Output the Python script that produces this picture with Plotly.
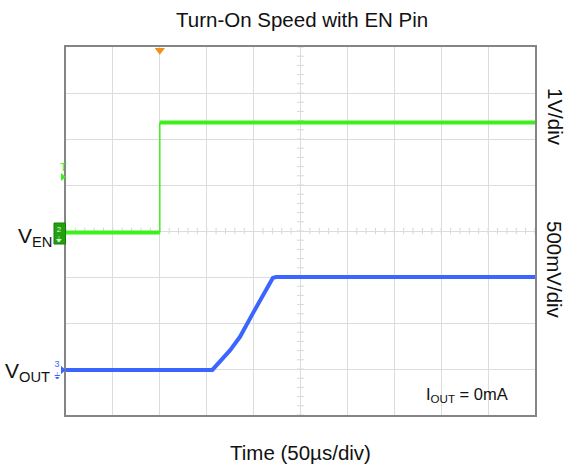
import plotly.graph_objects as go

# Data (in scope divisions: x 0..10, y 0..8 from bottom)
en_x = [0, 2.0, 2.0, 10]
en_y = [3.97, 3.97, 6.36, 6.36]

vout_x = [0, 3.12, 3.50, 3.71, 3.99, 4.41, 4.48, 10]
vout_y = [0.98, 0.98, 1.41, 1.70, 2.22, 2.98, 3.0, 3.0]

FONT = "Arial, Liberation Sans, sans-serif"
GREEN = "#3cf01a"
BLUE = "#3a66ff"

fig = go.Figure()


def px_x(p):
    return (p - 66) / 469


def px_y(p):
    return (415 - p) / 368


def tri_right(x0, x1, yc, h):
    return "M {} {} L {} {} L {} {} Z".format(px_x(x0), px_y(yc - h), px_x(x0), px_y(yc + h),
                                              px_x(x1), px_y(yc))


# center crosshair minor ticks
shapes = []
for i in range(51):
    x = i * 0.2
    shapes.append(dict(type="line", xref="x", yref="y", x0=x, x1=x, y0=4 - 0.07, y1=4 + 0.07,
                       line=dict(color="#d6d6d6", width=1), layer="below"))
for i in range(41):
    y = i * 0.2
    shapes.append(dict(type="line", xref="x", yref="y", x0=5 - 0.07, x1=5 + 0.07, y0=y, y1=y,
                       line=dict(color="#d6d6d6", width=1), layer="below"))

# channel 2 marker box
shapes.append(dict(type="rect", xref="paper", yref="paper", x0=px_x(54), x1=px_x(65.5),
                   y0=px_y(244), y1=px_y(223),
                   fillcolor="#22a010", line=dict(color="#187a08", width=1), layer="above"))
# trigger-level and channel arrows
shapes.append(dict(type="path", xref="paper", yref="paper", path=tri_right(61, 66, 177, 4),
                   fillcolor=GREEN, line=dict(width=0), layer="above"))
shapes.append(dict(type="path", xref="paper", yref="paper", path=tri_right(61, 66, 370, 4),
                   fillcolor=BLUE, line=dict(width=0), layer="above"))

# split EN trace: thick horizontal levels, thin vertical edge
lev_x, lev_y, edge_x, edge_y = [], [], [], []
for i in range(len(en_x) - 1):
    if en_x[i] == en_x[i + 1]:
        edge_x += [en_x[i], en_x[i + 1], None]
        edge_y += [en_y[i], en_y[i + 1], None]
    else:
        lev_x += [en_x[i], en_x[i + 1], None]
        lev_y += [en_y[i], en_y[i + 1], None]

fig.add_trace(go.Scatter(x=lev_x, y=lev_y, mode="lines", line=dict(color=GREEN, width=4),
                         hoverinfo="skip", showlegend=False))
fig.add_trace(go.Scatter(x=edge_x, y=edge_y, mode="lines", line=dict(color=GREEN, width=1.5),
                         hoverinfo="skip", showlegend=False))
fig.add_trace(go.Scatter(x=vout_x, y=vout_y, mode="lines", line=dict(color=BLUE, width=4),
                         hoverinfo="skip", showlegend=False))

# trigger position marker (top)
fig.add_trace(go.Scatter(x=[2.0], y=[7.93], mode="markers", cliponaxis=False,
                         marker=dict(symbol="triangle-down", size=9, color="#f0901a"),
                         hoverinfo="skip", showlegend=False))


def ann(text, px, py, size, color="#111", angle=0, xanchor="center"):
    return dict(text=text, x=px_x(px), y=px_y(py), xref="paper", yref="paper",
                xanchor=xanchor, yanchor="middle", textangle=angle, showarrow=False,
                font=dict(family=FONT, size=size, color=color))


annotations = [
    ann("Turn-On Speed with EN Pin", 302, 19, 20.5),
    ann("Time (50µs/div)", 300, 452, 20.5),
    ann("1V/div", 555, 117, 20.5, angle=90),
    ann("500mV/div", 555, 270, 20.5, angle=90),
    ann("V<sub>EN</sub>", 54, 237, 21, xanchor="right"),
    ann("V<sub>OUT</sub>", 52, 372, 21, xanchor="right"),
    ann("I<sub>OUT</sub> = 0mA", 467, 395, 16.5),
    ann("2<br>⏚", 59, 234, 8, color="#d8ffd0"),
    ann("3<br>⏚", 57, 370, 9, color=BLUE),
    ann("T", 63, 167, 11, color=GREEN),
]

axis_common = dict(showticklabels=False, ticks="", zeroline=False, showgrid=True,
                   gridcolor="#dcdcdc", gridwidth=1, showline=True, linecolor="#858585",
                   linewidth=2, mirror=True, fixedrange=True)

fig.update_layout(
    width=570, height=467,
    margin=dict(l=66, r=35, t=47, b=52),
    paper_bgcolor="white", plot_bgcolor="white",
    xaxis=dict(range=[0, 10], dtick=1, tick0=0, **axis_common),
    yaxis=dict(range=[0, 8], dtick=1, tick0=0, **axis_common),
    shapes=shapes, annotations=annotations, showlegend=False,
)

fig.write_html("out.html")
